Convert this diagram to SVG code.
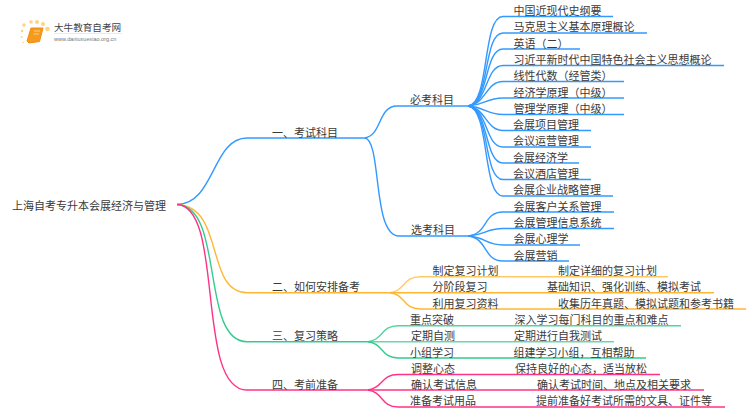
<svg xmlns="http://www.w3.org/2000/svg" width="750" height="410" viewBox="0 0 750 410">
<style>
text{font-family:"Noto Sans CJK SC","Liberation Sans",sans-serif;font-size:11px;fill:#3a3a3a}
path{fill:none;stroke-width:1.4}
.b path{stroke:#3399ff}
.o path{stroke:#ffb733}
.g path{stroke:#33cc8f}
.p path{stroke:#ff3385}
</style>
<rect width="750" height="410" fill="#fff"/>
<g id="logo">
<g fill="#fcd581"><circle cx="24" cy="25" r="1.8"/><circle cx="31" cy="22" r="1.8"/><circle cx="37" cy="22" r="2"/><circle cx="43" cy="24" r="2"/><circle cx="47.500" cy="29" r="2.300"/><circle cx="22" cy="31" r="1.300"/><circle cx="21.500" cy="37" r="1"/><circle cx="23" cy="42.500" r="0.800"/></g>
<path d="M31 28H43L39.500 41.500L29 43L27 41Z" style="fill:#f59a1b;stroke:#ef8c10;stroke-width:1"/>
<path d="M34 31H40M33.500 34H39" style="stroke:#fde0a8;stroke-width:.8"/>
<text x="54" y="31" style="font-size:9.600px;fill:#444">大牛教育自考网</text>
<path d="M54 33.500H122" style="stroke:#ddd;stroke-width:.6"/>
<text x="54" y="41" style="font-size:5.500px;fill:#777;font-family:'Liberation Sans',sans-serif">www.daniuxuexiao.org.cn</text>
</g>
<g id="connectors">
<g class="b">
<path d="M177 204.500C215 204 212 138 247 138H365"/>
<path d="M365 138C382 135 378 106 397 106H468"/>
<path d="M365 138C382 141 372 236 399 236H468"/>
<path d="M468 106C490 104 482 16.500 503 16.500H613"/>
<path d="M468 106C490 104 483 33 503 33H647"/>
<path d="M468 106C489 104 484 49 503 49H580"/>
<path d="M468 106C488 104 485 65.500 503 65.500H724"/>
<path d="M468 106C486 104 486 81.500 503 81.500H624"/>
<path d="M468 106C485 105 486 98 503 98H624"/>
<path d="M468 106C485 107 486 114.500 503 114.500H624"/>
<path d="M468 106C486 108 486 130.500 503 130.500H591"/>
<path d="M468 106C488 108 485 147 503 147H591"/>
<path d="M468 106C489 108 484 163 503 163H579"/>
<path d="M468 106C490 108 483 179.500 503 179.500H591"/>
<path d="M468 106C490 108 482 196 503 196H613"/>
<path d="M468 236C488 234 483 212 503 212H614"/>
<path d="M468 236C486 235 485 228.500 503 228.500H614"/>
<path d="M468 236C486 237 485 245 503 245H580"/>
<path d="M468 236C488 238 483 261 503 261H569"/>
</g>
<g class="o">
<path d="M177 204.500C225 206 205 292.700 247 292.700H390"/>
<path d="M390 292.700C405 291 403 276.700 420 276.700H668" opacity=".75"/>
<path d="M390 292.700H714"/>
<path d="M390 292.700C405 294 403 309 420 309H746"/>
</g>
<g class="g">
<path d="M177 204.500C225 206 200 341.700 247 341.700H368"/>
<path d="M368 341.700C383 340 381 325.700 398 325.700H681" opacity=".85"/>
<path d="M368 341.700H614" opacity=".75"/>
<path d="M368 341.700C383 343 381 358 398 358H646"/>
</g>
<g class="p">
<path d="M177 204.500C225 206 195 390 247 390H368"/>
<path d="M368 390C383 388 381 374.500 398 374.500H660"/>
<path d="M368 390H704"/>
<path d="M368 390C383 392 381 407 398 407H725"/>
</g>
</g>
<g id="root"><text x="12" y="210">上海自考专升本会展经济与管理</text></g>
<g id="n1"><text x="272" y="137">一、考试科目</text></g>
<g id="n1a"><text x="410" y="104">必考科目</text></g>
<g id="n1b"><text x="411" y="234">选考科目</text></g>
<g id="l1"><text x="513.500" y="15">中国近现代史纲要</text></g>
<g id="l2"><text x="513.500" y="31">马克思主义基本原理概论</text></g>
<g id="l3"><text x="513.500" y="48">英语（二）</text></g>
<g id="l4"><text x="513.500" y="64">习近平新时代中国特色社会主义思想概论</text></g>
<g id="l5"><text x="513.500" y="80">线性代数（经管类）</text></g>
<g id="l6"><text x="513.500" y="97">经济学原理（中级）</text></g>
<g id="l7"><text x="513.500" y="113">管理学原理（中级）</text></g>
<g id="l8"><text x="513" y="129">会展项目管理</text></g>
<g id="l9"><text x="513" y="145">会议运营管理</text></g>
<g id="l10"><text x="513" y="162">会展经济学</text></g>
<g id="l11"><text x="513" y="178">会议酒店管理</text></g>
<g id="l12"><text x="513" y="194">会展企业战略管理</text></g>
<g id="l13"><text x="513.500" y="211">会展客户关系管理</text></g>
<g id="l14"><text x="513.500" y="227">会展管理信息系统</text></g>
<g id="l15"><text x="513.500" y="243">会展心理学</text></g>
<g id="l16"><text x="513.500" y="260">会展营销</text></g>
<g id="n2"><text x="272" y="291">二、如何安排备考</text></g>
<g id="n2a"><text x="432.500" y="275">制定复习计划</text><text x="558" y="275">制定详细的复习计划</text></g>
<g id="n2b"><text x="432.500" y="291">分阶段复习</text><text x="547" y="291">基础知识、强化训练、模拟考试</text></g>
<g id="n2c"><text x="432.500" y="308">利用复习资料</text><text x="558" y="308">收集历年真题、模拟试题和参考书籍</text></g>
<g id="n3"><text x="272" y="340">三、复习策略</text></g>
<g id="n3a"><text x="410" y="324">重点突破</text><text x="514.500" y="324">深入学习每门科目的重点和难点</text></g>
<g id="n3b"><text x="411" y="340">定期自测</text><text x="514" y="340">定期进行自我测试</text></g>
<g id="n3c"><text x="410" y="357">小组学习</text><text x="513.500" y="357">组建学习小组，互相帮助</text></g>
<g id="n4"><text x="272" y="389">四、考前准备</text></g>
<g id="n4a"><text x="411" y="373">调整心态</text><text x="515" y="373">保持良好的心态，适当放松</text></g>
<g id="n4b"><text x="411" y="389">确认考试信息</text><text x="537" y="389">确认考试时间、地点及相关要求</text></g>
<g id="n4c"><text x="410" y="405">准备考试用品</text><text x="536" y="405">提前准备好考试所需的文具、证件等</text></g>
</svg>
